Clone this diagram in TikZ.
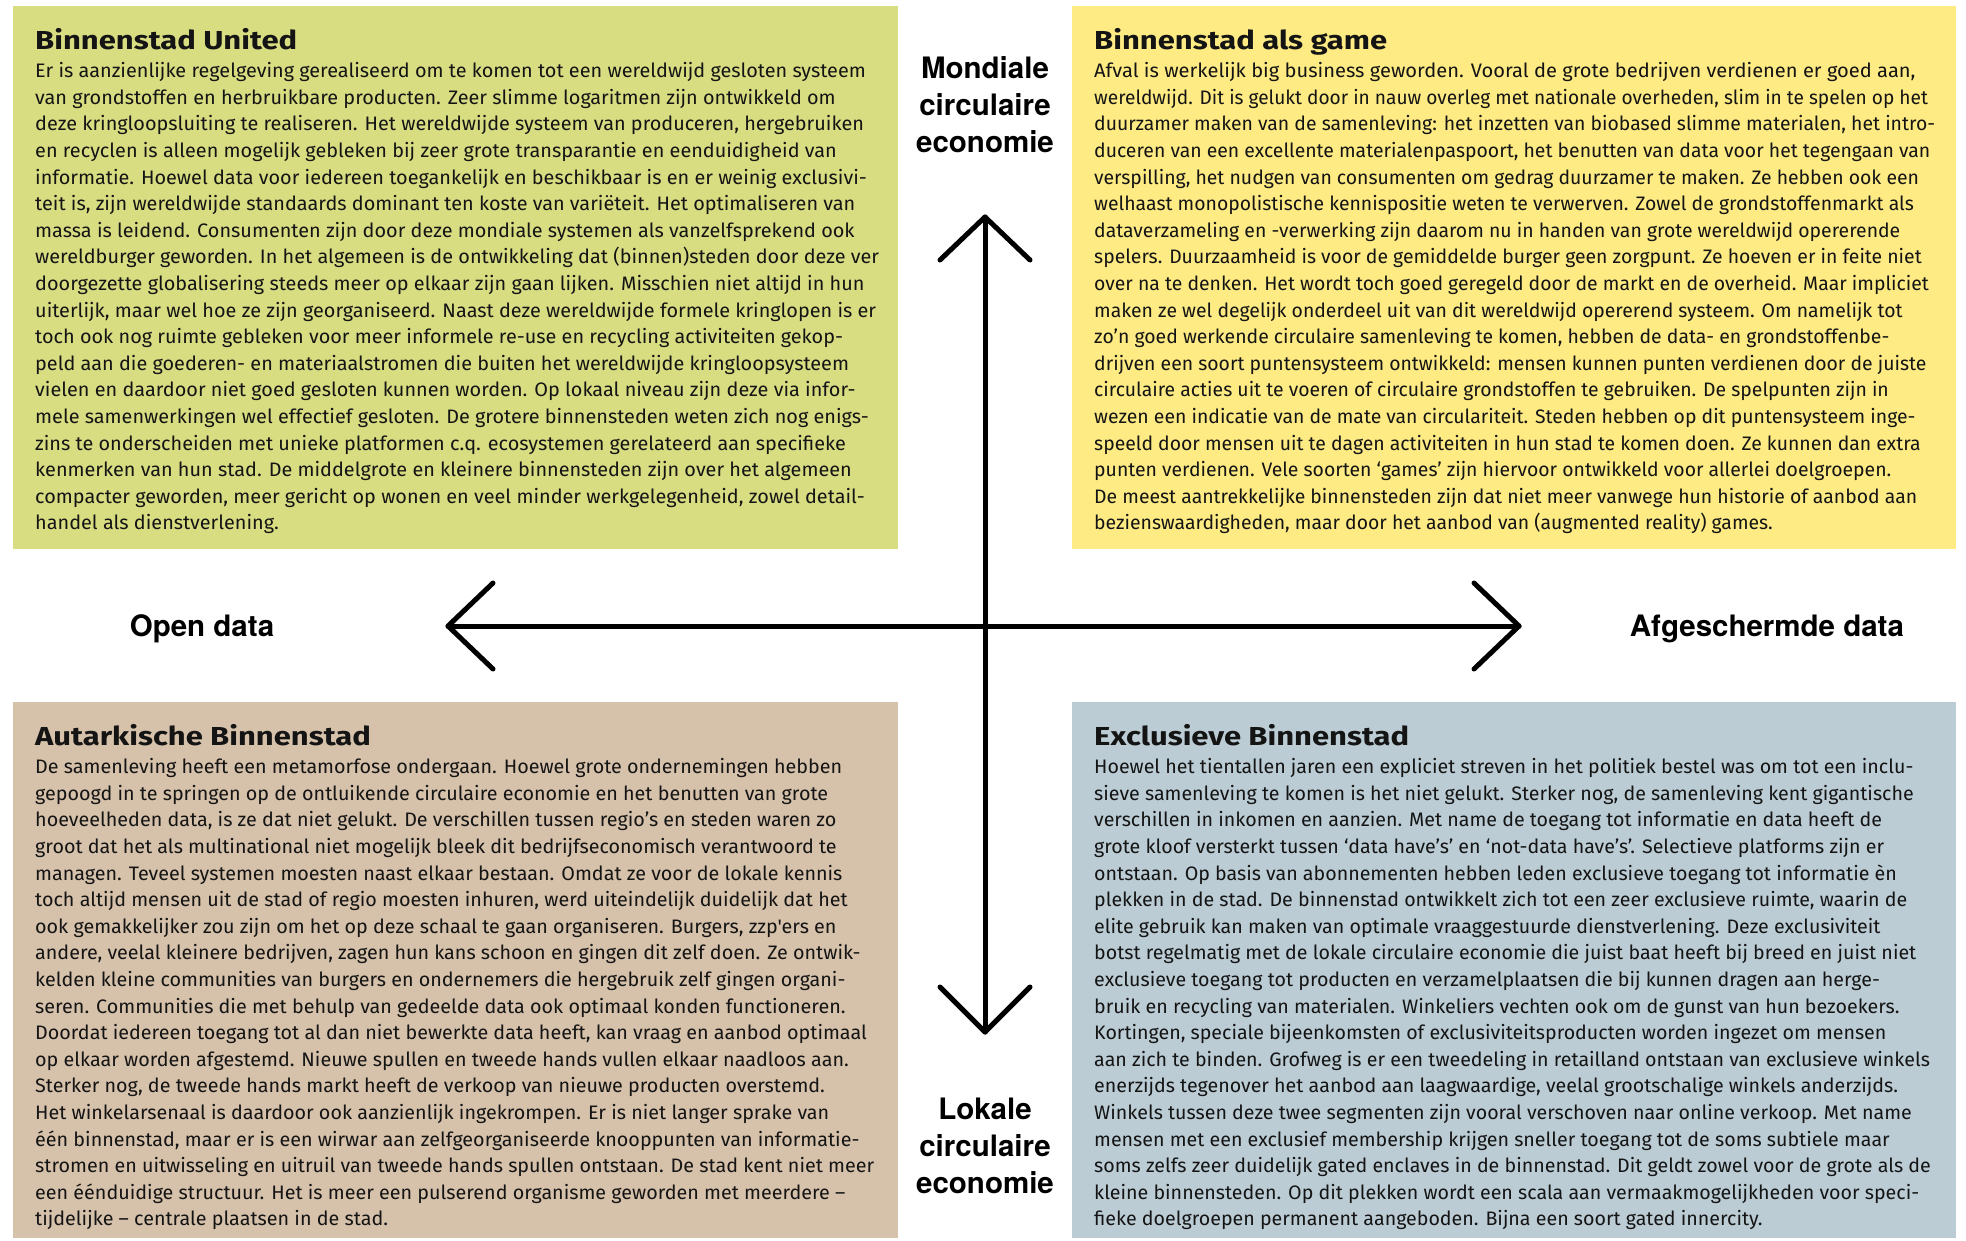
\documentclass[tikz,border=0pt]{standalone}
\usepackage{fontspec}
\usepackage{graphicx}
\setmainfont{Fira Sans}
\newfontfamily\bodyfont{Fira Sans}
\newfontfamily\titlefont{Fira Sans}
\newfontfamily\axisfont{TeX Gyre Heros}
\definecolor{tlcol}{RGB}{217,221,130}
\definecolor{trcol}{RGB}{254,235,132}
\definecolor{blcol}{RGB}{214,193,170}
\definecolor{brcol}{RGB}{187,204,212}
\definecolor{ink}{RGB}{20,20,20}
\newlength\qlen
\newlength\tlen
\newcommand\qblock[1]{\vtop{\baselineskip=26.6bp\lineskiplimit=-50bp\lineskip=0pt\halign{##\hfil\cr#1\crcr}}}
\newcommand\cblock[1]{\vtop{\baselineskip=37bp\lineskiplimit=-50bp\lineskip=0pt\halign{\hfil##\hfil\cr#1\crcr}}}
\newcommand\bodysize{\bodyfont\fontsize{19.5bp}{26.6bp}\selectfont}
\newcommand\titlesize{\titlefont\bfseries\fontsize{26bp}{30bp}\selectfont}
\begin{document}
\settowidth\qlen{\bodysize Er is aanzienlijke regelgeving gerealiseerd om te komen tot een wereldwijd gesloten systeem}%
\pgfmathsetmacro\bsx{834*1.00375/\qlen}%
\pgfmathsetmacro\bsxtl{\bsx*0.996}%
\pgfmathsetmacro\bsxtr{\bsx*0.973}%
\pgfmathsetmacro\bsxbl{\bsx*0.990}%
\pgfmathsetmacro\bsxbr{\bsx*0.985}%
\settowidth\tlen{\titlesize Binnenstad United}%
\pgfmathsetmacro\tsx{262*1.00375/\tlen}%
\begin{tikzpicture}[x=1bp,y=-1bp,
  qbox/.style={draw=none,inner sep=0pt,outer sep=0pt,anchor=north west},
  qtitle/.style={anchor=base west,inner sep=0pt,text=ink,font=\titlesize},
  qbody/.style={anchor=base west,inner sep=0pt,text=ink,font=\bodysize},
  axlabel/.style={anchor=base,inner sep=0pt,text=black,font=\axisfont\bfseries\fontsize{29.5bp}{37bp}\selectfont},
  axisline/.style={draw=black,line width=5bp,line cap=round,line join=round}]
\useasboundingbox (0,0) rectangle (1966,1240);
\fill[white] (0,0) rectangle (1966,1240);
% quadrant boxes
\node[qbox,fill=tlcol,minimum width=885bp,minimum height=543bp] (tlbox) at (13,6) {};
\node[qbox,fill=trcol,minimum width=884bp,minimum height=543bp] (trbox) at (1072,6) {};
\node[qbox,fill=blcol,minimum width=885bp,minimum height=536bp] (blbox) at (13,702) {};
\node[qbox,fill=brcol,minimum width=884bp,minimum height=536bp] (brbox) at (1072,702) {};
% titles
\node[qtitle] (tltitle) at (35,49) {\scalebox{\tsx}[1]{Binnenstad United}};
\node[qtitle] (trtitle) at (1094,49) {\scalebox{\tsx}[1]{Binnenstad als game}};
\node[qtitle] (bltitle) at (35,745) {\scalebox{\tsx}[1]{Autarkische Binnenstad}};
\node[qtitle] (brtitle) at (1094,745) {\scalebox{\tsx}[1]{Exclusieve Binnenstad}};
% bodies
\node[qbody] (tlbody) at (35,77.7) {\scalebox{\bsxtl}[1]{\qblock{%
Er is aanzienlijke regelgeving gerealiseerd om te komen tot een wereldwijd gesloten systeem\cr
van grondstoffen en herbruikbare producten. Zeer slimme logaritmen zijn ontwikkeld om\cr
deze kringloopsluiting te realiseren. Het wereldwijde systeem van produceren, hergebruiken\cr
en recyclen is alleen mogelijk gebleken bij zeer grote transparantie en eenduidigheid van\cr
informatie. Hoewel data voor iedereen toegankelijk en beschikbaar is en er weinig exclusivi-\cr
teit is, zijn wereldwijde standaards dominant ten koste van variëteit. Het optimaliseren van\cr
massa is leidend. Consumenten zijn door deze mondiale systemen als vanzelfsprekend ook\cr
wereldburger geworden. In het algemeen is de ontwikkeling dat (binnen)steden door deze ver\cr
doorgezette globalisering steeds meer op elkaar zijn gaan lijken. Misschien niet altijd in hun\cr
uiterlijk, maar wel hoe ze zijn georganiseerd. Naast deze wereldwijde formele kringlopen is er\cr
toch ook nog ruimte gebleken voor meer informele re-use en recycling activiteiten gekop-\cr
peld aan die goederen- en materiaalstromen die buiten het wereldwijde kringloopsysteem\cr
vielen en daardoor niet goed gesloten kunnen worden. Op lokaal niveau zijn deze via infor-\cr
mele samenwerkingen wel effectief gesloten. De grotere binnensteden weten zich nog enigs-\cr
zins te onderscheiden met unieke platformen c.q. ecosystemen gerelateerd aan specifieke\cr
kenmerken van hun stad. De middelgrote en kleinere binnensteden zijn over het algemeen\cr
compacter geworden, meer gericht op wonen en veel minder werkgelegenheid, zowel detail-\cr
handel als dienstverlening.}}};
\node[qbody] (trbody) at (1094,77.7) {\scalebox{\bsxtr}[1]{\qblock{%
\scalebox{1.036}[1]{Afval is werkelijk big business geworden. Vooral de grote bedrijven verdienen er goed aan,}\cr
\scalebox{0.985}[1]{wereldwijd. Dit is gelukt door in nauw overleg met nationale overheden, slim in te spelen op het}\cr
duurzamer maken van de samenleving: het inzetten van biobased slimme materialen, het intro-\cr
duceren van een excellente materialenpaspoort, het benutten van data voor het tegengaan van\cr
verspilling, het nudgen van consumenten om gedrag duurzamer te maken. Ze hebben ook een\cr
welhaast monopolistische kennispositie weten te verwerven. Zowel de grondstoffenmarkt als\cr
dataverzameling en -verwerking zijn daarom nu in handen van grote wereldwijd opererende\cr
spelers. Duurzaamheid is voor de gemiddelde burger geen zorgpunt. Ze hoeven er in feite niet\cr
over na te denken. Het wordt toch goed geregeld door de markt en de overheid. Maar impliciet\cr
maken ze wel degelijk onderdeel uit van dit wereldwijd opererend systeem. Om namelijk tot\cr
zo’n goed werkende circulaire samenleving te komen, hebben de data- en grondstoffenbe-\cr
drijven een soort puntensysteem ontwikkeld: mensen kunnen punten verdienen door de juiste\cr
circulaire acties uit te voeren of circulaire grondstoffen te gebruiken. De spelpunten zijn in\cr
wezen een indicatie van de mate van circulariteit. Steden hebben op dit puntensysteem inge-\cr
speeld door mensen uit te dagen activiteiten in hun stad te komen doen. Ze kunnen dan extra\cr
punten verdienen. Vele soorten ‘games’ zijn hiervoor ontwikkeld voor allerlei doelgroepen.\cr
De meest aantrekkelijke binnensteden zijn dat niet meer vanwege hun historie of aanbod aan\cr
bezienswaardigheden, maar door het aanbod van (augmented reality) games.}}};
\node[qbody] (blbody) at (35,773.7) {\scalebox{\bsxbl}[1]{\qblock{%
De samenleving heeft een metamorfose ondergaan. Hoewel grote ondernemingen hebben\cr
gepoogd in te springen op de ontluikende circulaire economie en het benutten van grote\cr
hoeveelheden data, is ze dat niet gelukt. De verschillen tussen regio’s en steden waren zo\cr
groot dat het als multinational niet mogelijk bleek dit bedrijfseconomisch verantwoord te\cr
managen. Teveel systemen moesten naast elkaar bestaan. Omdat ze voor de lokale kennis\cr
toch altijd mensen uit de stad of regio moesten inhuren, werd uiteindelijk duidelijk dat het\cr
ook gemakkelijker zou zijn om het op deze schaal te gaan organiseren. Burgers, zzp'ers en\cr
andere, veelal kleinere bedrijven, zagen hun kans schoon en gingen dit zelf doen. Ze ontwik-\cr
kelden kleine communities van burgers en ondernemers die hergebruik zelf gingen organi-\cr
seren. Communities die met behulp van gedeelde data ook optimaal konden functioneren.\cr
Doordat iedereen toegang tot al dan niet bewerkte data heeft, kan vraag en aanbod optimaal\cr
op elkaar worden afgestemd. Nieuwe spullen en tweede hands vullen elkaar naadloos aan.\cr
Sterker nog, de tweede hands markt heeft de verkoop van nieuwe producten overstemd.\cr
Het winkelarsenaal is daardoor ook aanzienlijk ingekrompen. Er is niet langer sprake van\cr
één binnenstad, maar er is een wirwar aan zelfgeorganiseerde knooppunten van informatie-\cr
stromen en uitwisseling en uitruil van tweede hands spullen ontstaan. De stad kent niet meer\cr
een éénduidige structuur. Het is meer een pulserend organisme geworden met meerdere –\cr
tijdelijke – centrale plaatsen in de stad.}}};
\node[qbody] (brbody) at (1094,773.7) {\scalebox{\bsxbr}[1]{\qblock{%
Hoewel het tientallen jaren een expliciet streven in het politiek bestel was om tot een inclu-\cr
sieve samenleving te komen is het niet gelukt. Sterker nog, de samenleving kent gigantische\cr
verschillen in inkomen en aanzien. Met name de toegang tot informatie en data heeft de\cr
grote kloof versterkt tussen ‘data have’s’ en ‘not-data have’s’. Selectieve platforms zijn er\cr
ontstaan. Op basis van abonnementen hebben leden exclusieve toegang tot informatie èn\cr
plekken in de stad. De binnenstad ontwikkelt zich tot een zeer exclusieve ruimte, waarin de\cr
elite gebruik kan maken van optimale vraaggestuurde dienstverlening. Deze exclusiviteit\cr
botst regelmatig met de lokale circulaire economie die juist baat heeft bij breed en juist niet\cr
exclusieve toegang tot producten en verzamelplaatsen die bij kunnen dragen aan herge-\cr
bruik en recycling van materialen. Winkeliers vechten ook om de gunst van hun bezoekers.\cr
Kortingen, speciale bijeenkomsten of exclusiviteitsproducten worden ingezet om mensen\cr
aan zich te binden. Grofweg is er een tweedeling in retailland ontstaan van exclusieve winkels\cr
enerzijds tegenover het aanbod aan laagwaardige, veelal grootschalige winkels anderzijds.\cr
Winkels tussen deze twee segmenten zijn vooral verschoven naar online verkoop. Met name\cr
mensen met een exclusief membership krijgen sneller toegang tot de soms subtiele maar\cr
soms zelfs zeer duidelijk gated enclaves in de binnenstad. Dit geldt zowel voor de grote als de\cr
kleine binnensteden. Op dit plekken wordt een scala aan vermaakmogelijkheden voor speci-\cr
fieke doelgroepen permanent aangeboden. Bijna een soort gated innercity.}}};
% axis labels
\node[axlabel] (mondiaal) at (985,78) {\cblock{Mondiale\cr circulaire\cr economie}};
\node[axlabel] (lokaal) at (985,1119) {\cblock{Lokale\cr circulaire\cr economie}};
\node[axlabel] (open) at (202,636) {Open data};
\node[axlabel] (afgeschermd) at (1767,636) {Afgeschermde data};
% axes
\coordinate (vtop) at (985,217);
\coordinate (vbot) at (985,1032);
\coordinate (hleft) at (448,626);
\coordinate (hright) at (1519,626);
\draw[axisline] (vtop) -- (vbot);
\draw[axisline] (hleft) -- (hright);
\draw[axisline] (vtop) ++(-45,43) -- (vtop) -- ++(45,43);
\draw[axisline] (vbot) ++(-45,-45) -- (vbot) -- ++(45,-45);
\draw[axisline] (hleft) ++(45,-43) -- (hleft) -- ++(45,43);
\draw[axisline] (hright) ++(-45,-43) -- (hright) -- ++(-45,43);
\end{tikzpicture}
\end{document}
